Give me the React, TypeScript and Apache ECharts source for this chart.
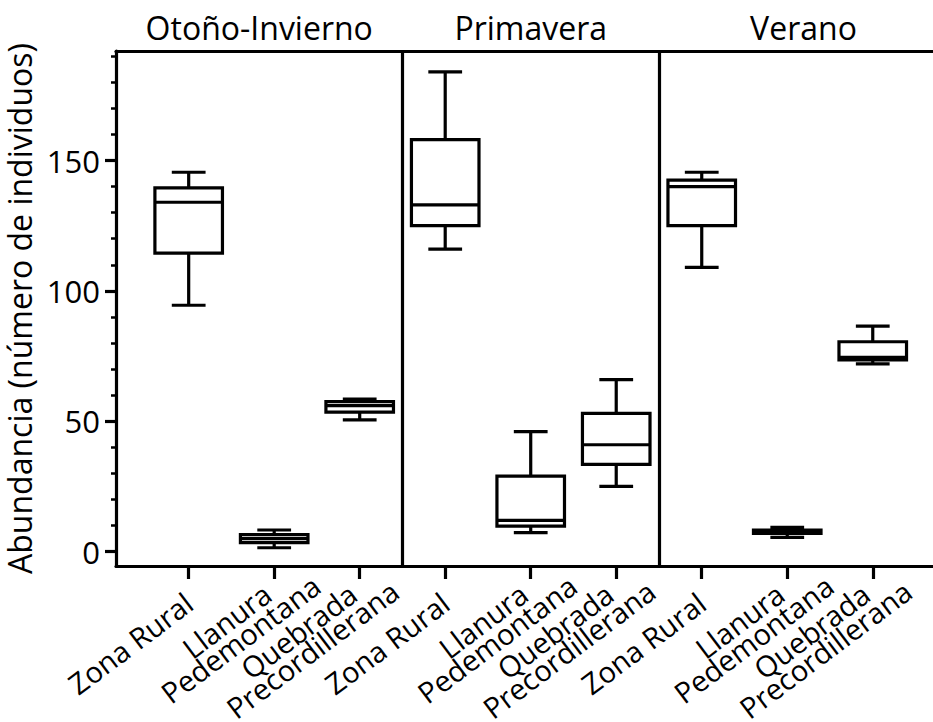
import React, { useEffect, useRef } from "react";
import * as echarts from "echarts";

// ---- data ----
const seasons = ["Otoño-Invierno", "Primavera", "Verano"];
const seasonDividers = [2.5, 5.5];
const zones = [["Zona Rural"], ["Llanura", "Pedemontana"], ["Quebrada", "Precordillerana"]];
// [min, Q1, median, Q3, max] for Zona Rural, Llanura Pedemontana, Quebrada Precordillerana
const otonoInvierno = [
  [94.5, 114.5, 134, 139.5, 145.5],
  [1.5, 3.5, 5, 6.5, 8.3],
  [50.5, 53.5, 56, 57.5, 58.5],
];
const primavera = [
  [116, 125, 133, 158, 184],
  [7.3, 9.8, 12, 29, 46],
  [25, 33.5, 41, 53, 66],
];
const verano = [
  [109, 125, 140, 142.5, 145.5],
  [5.5, 7, 7.8, 8.3, 9.3],
  [72, 73.5, 74.5, 80.5, 86.5],
];
const majorTicks = [0, 50, 100, 150];
const minorTicks = [10, 20, 30, 40, 60, 70, 80, 90, 110, 120, 130, 140, 160, 170, 180, 190];

// ---- layout / style ----
const X_MIN = -0.85;
const X_MAX = 8.88;
const Y_MIN = -5.5;
const Y_MAX = 192;
const FONT = "'Open Sans', 'Noto Sans', sans-serif";
const LABEL_SIZE = 29;
const LABEL_LH = 23;

function measure(text: string, size: number): number {
  const c = document.createElement("canvas").getContext("2d");
  if (!c) return text.length * size * 0.55;
  c.font = `${size}px 'Open Sans'`;
  return c.measureText(text).width;
}

export default function App() {
  const ref = useRef<HTMLDivElement>(null);

  useEffect(() => {
    if (!ref.current) return;
    const chart = echarts.init(ref.current, null, { renderer: "svg" });

    const seasonData = [otonoInvierno, primavera, verano];
    const boxes: number[][] = [];
    seasonData.forEach((s, si) => s.forEach((b, zi) => boxes.push([si * 3 + zi, ...b])));
    const catLines: string[][] = [];
    seasonData.forEach(() => zones.forEach((z) => catLines.push(z)));
    const catPositions = catLines.map((_, i) => i);

    const edges = [X_MIN, ...seasonDividers, X_MAX];
    const seasonCenters = seasons.map((_, i) => (edges[i] + edges[i + 1]) / 2);

    const rich: Record<string, any> = {
      a: { fontSize: LABEL_SIZE, fontFamily: FONT, color: "#000", lineHeight: LABEL_LH, align: "center" },
    };
    zones.forEach((z, i) => {
      rich["s" + i] = {
        fontSize: LABEL_SIZE,
        fontFamily: FONT,
        lineHeight: LABEL_LH,
        width: measure(z[0], LABEL_SIZE),
        align: "right",
      };
    });

    const BOX_W = 0.79;
    const lineW = 3.2;

    chart.setOption({
      animation: false,
      grid: {
        left: 116,
        right: -15,
        top: 51,
        bottom: 156,
        containLabel: false,
        outerBoundsMode: "none",
      },
      xAxis: [
        {
          type: "value",
          min: X_MIN,
          max: X_MAX,
          position: "bottom",
          splitLine: { show: false },
          axisLine: { show: true, onZero: false, lineStyle: { color: "#000", width: lineW } },
          axisTick: {
            show: true,
            customValues: catPositions,
            length: 13,
            lineStyle: { color: "#000", width: lineW },
          },
          axisLabel: {
            customValues: [X_MIN + 0.02, ...catPositions, X_MAX - 0.02],
            rotate: 37,
            align: "center",
            verticalAlign: "middle",
            margin: 33,
            hideOverlap: false,
            fontFamily: FONT,
            fontSize: LABEL_SIZE,
            color: "#000",
            rich,
            formatter: (v: number) => {
              if (Math.abs(v - Math.round(v)) > 0.01) return " ";
              const i = Math.round(v);
              const lines = catLines[i];
              if (!lines) return " ";
              const z = i % 3;
              return lines.map((l) => `{a|${l}}{s${z}| }`).join("\n");
            },
          },
        },
        {
          type: "value",
          min: X_MIN,
          max: X_MAX,
          position: "top",
          splitLine: { show: false },
          axisLine: { show: true, onZero: false, lineStyle: { color: "#000", width: lineW } },
          axisTick: { show: false },
          axisLabel: {
            customValues: seasonCenters,
            margin: 8,
            fontFamily: FONT,
            fontSize: 32,
            color: "#000",
            formatter: (v: number) => {
              const i = seasonCenters.findIndex((c) => Math.abs(c - v) < 1e-6);
              return i >= 0 ? seasons[i] : "";
            },
          },
        },
      ],
      yAxis: [
        {
          type: "value",
          min: Y_MIN,
          max: Y_MAX,
          position: "left",
          name: "Abundancia (número de individuos)",
          nameLocation: "middle",
          nameGap: 64,
          nameTextStyle: { fontFamily: FONT, fontSize: 32, color: "#000" },
          splitLine: { show: false },
          axisLine: { show: true, onZero: false, lineStyle: { color: "#000", width: lineW } },
          axisTick: {
            show: true,
            customValues: majorTicks,
            length: 11,
            lineStyle: { color: "#000", width: lineW },
          },
          axisLabel: {
            customValues: majorTicks,
            margin: 16,
            fontFamily: FONT,
            fontSize: 31,
            color: "#000",
          },
        },
        {
          type: "value",
          min: Y_MIN,
          max: Y_MAX,
          position: "left",
          splitLine: { show: false },
          axisLine: { show: false, onZero: false },
          axisTick: {
            show: true,
            customValues: minorTicks,
            length: 5,
            lineStyle: { color: "#000", width: 2.5 },
          },
          axisLabel: { show: false },
        },
      ],
      series: [
        {
          type: "custom",
          xAxisIndex: 0,
          yAxisIndex: 0,
          clip: false,
          data: boxes,
          encode: { x: 0, y: [1, 2, 3, 4, 5] },
          renderItem: (params: any, api: any) => {
            const x = api.value(0);
            const pLo = api.coord([x, api.value(1)]);
            const pQ1 = api.coord([x, api.value(2)]);
            const pMed = api.coord([x, api.value(3)]);
            const pQ3 = api.coord([x, api.value(4)]);
            const pHi = api.coord([x, api.value(5)]);
            const half = api.size([BOX_W, 0])[0] / 2;
            const capHalf = half / 2;
            const cx = pLo[0];
            const st = { stroke: "#000", lineWidth: lineW, fill: "none" };
            return {
              type: "group",
              children: [
                { type: "line", shape: { x1: cx, y1: pHi[1], x2: cx, y2: pQ3[1] }, style: st },
                { type: "line", shape: { x1: cx, y1: pQ1[1], x2: cx, y2: pLo[1] }, style: st },
                { type: "line", shape: { x1: cx - capHalf, y1: pHi[1], x2: cx + capHalf, y2: pHi[1] }, style: st },
                { type: "line", shape: { x1: cx - capHalf, y1: pLo[1], x2: cx + capHalf, y2: pLo[1] }, style: st },
                {
                  type: "rect",
                  shape: { x: cx - half, y: pQ3[1], width: half * 2, height: pQ1[1] - pQ3[1] },
                  style: { stroke: "#000", lineWidth: lineW, fill: "#fff" },
                },
                { type: "line", shape: { x1: cx - half, y1: pMed[1], x2: cx + half, y2: pMed[1] }, style: st },
              ],
            };
          },
          markLine: {
            silent: true,
            symbol: "none",
            label: { show: false },
            lineStyle: { color: "#000", width: lineW, type: "solid" },
            data: seasonDividers.map((d) => ({ xAxis: d })),
          },
        },
      ],
    });

    return () => chart.dispose();
  }, []);

  return <div ref={ref} style={{ width: 933, height: 722, position: "absolute", left: 0, top: 0 }} />;
}
